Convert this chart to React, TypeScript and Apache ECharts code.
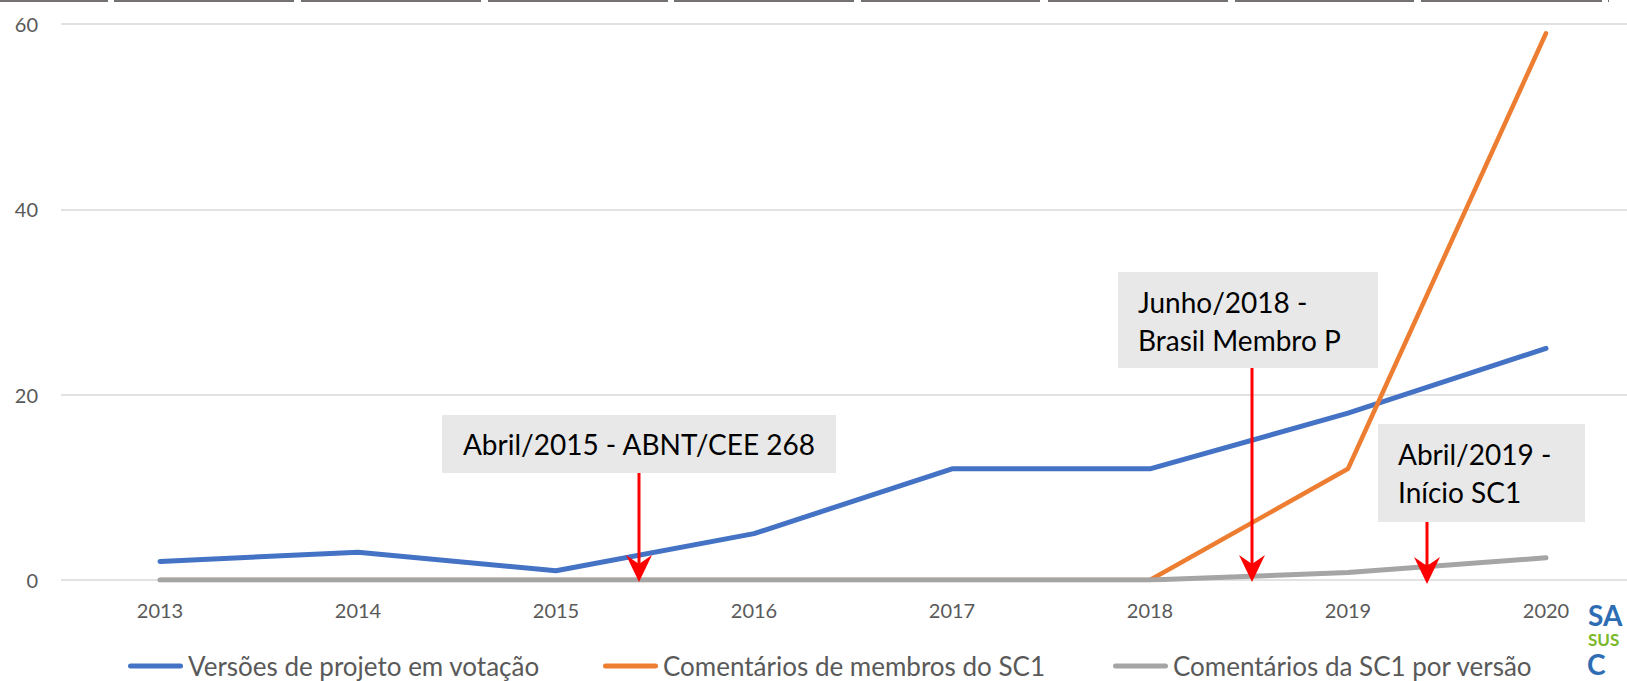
import React, { useEffect, useRef } from 'react';
import * as echarts from 'echarts';

// ---- data ----
const years = ['2013', '2014', '2015', '2016', '2017', '2018', '2019', '2020'];
const versoesProjeto = [2, 3, 1, 5, 12, 12, 18, 25];
const comentariosMembros = [0, 0, 0, 0, 0, 0, 12, 59];
const comentariosSC1 = [0, 0, 0, 0, 0, 0, 0.8, 2.4];
const seriesNames = [
  'Versões de projeto em votação',
  'Comentários de membros do SC1',
  'Comentários da SC1 por versão',
];
const seriesColors = ['#4472C4', '#ED7D31', '#A5A5A5'];
const yMin = 0;
const yMax = 60;
const yInterval = 20;

// ---- annotations (layout) ----
const annotations = [
  { lines: ['Abril/2015 - ABNT/CEE 268'], box: [442, 415, 394, 58], center: true, textX: 639, textY: [444], arrowX: 639, arrowTop: 473, tipY: 582 },
  { lines: ['Junho/2018 -', 'Brasil Membro P'], box: [1118, 272, 260, 96], center: false, textX: 1138, textY: [302, 340], arrowX: 1252, arrowTop: 368, tipY: 582 },
  { lines: ['Abril/2019 -', 'Início SC1'], box: [1378, 424, 207, 98], center: false, textX: 1398, textY: [454, 492], arrowX: 1427, arrowTop: 522, tipY: 584 },
];
const topBars = [
  [0, 108], [114, 294], [301, 481], [488, 668], [674, 854], [861, 1040],
  [1048, 1228], [1235, 1414], [1421, 1602], [1608, 1609],
];
const legendLefts = [128, 603, 1113];

const FONT = 'Lato, "Open Sans", sans-serif';
const lineIcon = 'path://M2.5,0 H52.5 A2.5,2.5 0 0 1 52.5,5 H2.5 A2.5,2.5 0 0 1 2.5,0 Z';

export default function App() {
  const ref = useRef<HTMLDivElement>(null);
  useEffect(() => {
    const chart = echarts.init(ref.current!, null, { renderer: 'svg' });
    const graphic: any[] = [];
    topBars.forEach(([a, b]) => {
      graphic.push({ type: 'rect', shape: { x: a, y: 0, width: b - a, height: 2 }, style: { fill: '#767171' }, z: 100 });
    });
    annotations.forEach((an) => {
      const [bx, by, bw, bh] = an.box;
      graphic.push({ type: 'rect', shape: { x: bx, y: by, width: bw, height: bh }, style: { fill: '#E8E8E8' }, z: 100 });
      an.lines.forEach((t, i) => {
        graphic.push({
          type: 'text', x: an.textX, y: an.textY[i], z: 101,
          style: { text: t, font: `28px ${FONT}`, fill: '#000000', textAlign: an.center ? 'center' : 'left', textVerticalAlign: 'middle' },
        });
      });
      graphic.push({
        type: 'line', z: 102,
        shape: { x1: an.arrowX, y1: an.arrowTop, x2: an.arrowX, y2: an.tipY - 10 },
        style: { stroke: '#FF0000', lineWidth: 3 },
      });
      graphic.push({
        type: 'polygon', z: 102,
        shape: { points: [[an.arrowX, an.tipY], [an.arrowX - 13, an.tipY - 27], [an.arrowX, an.tipY - 18], [an.arrowX + 13, an.tipY - 27]] },
        style: { fill: '#FF0000' },
      });
    });
    // logo fragment bottom-right
    graphic.push({ type: 'text', x: 1588, y: 601, z: 100, style: { text: 'SA', font: `bold 28px ${FONT}`, fill: '#2E6DB4', textVerticalAlign: 'top' } });
    graphic.push({ type: 'text', x: 1588, y: 631, z: 100, style: { text: 'SUS', font: `bold 17px ${FONT}`, fill: '#7AB829', textVerticalAlign: 'top' } });
    graphic.push({ type: 'text', x: 1587, y: 650, z: 100, style: { text: 'C', font: `bold 28px ${FONT}`, fill: '#2E6DB4', textVerticalAlign: 'top' } });

    chart.setOption({
      animation: false,
      backgroundColor: '#ffffff',
      grid: { left: 61, right: -18, top: 24, bottom: 101, containLabel: false, outerBoundsMode: 'none' },
      xAxis: {
        type: 'category',
        data: years,
        boundaryGap: true,
        axisLine: { show: false },
        axisTick: { show: false },
        splitLine: { show: false },
        axisLabel: { fontFamily: FONT, fontSize: 20, color: '#595959', margin: 20 },
      },
      yAxis: {
        type: 'value',
        min: yMin,
        max: yMax,
        interval: yInterval,
        axisLine: { show: false },
        axisTick: { show: false },
        axisLabel: { fontFamily: FONT, fontSize: 20, color: '#595959', margin: 23 },
        splitLine: { lineStyle: { color: '#D9D9D9', width: 1.5 } },
      },
      legend: seriesNames.map((n, i) => ({
        data: [n],
        left: legendLefts[i],
        top: 653,
        padding: 0,
        itemWidth: 55,
        itemHeight: 5,
        icon: lineIcon,
        textStyle: { fontFamily: FONT, fontSize: 26, color: '#595959' },
      })),
      series: [
        { name: seriesNames[0], data: versoesProjeto },
        { name: seriesNames[1], data: comentariosMembros },
        { name: seriesNames[2], data: comentariosSC1 },
      ].map((s, i) => ({
        ...s,
        type: 'line',
        symbol: 'none',
        color: seriesColors[i],
        itemStyle: { color: seriesColors[i] },
        lineStyle: { color: seriesColors[i], width: i === 1 ? 4.5 : 5, cap: 'round', join: 'round' },
      })),
      graphic,
    });
    return () => chart.dispose();
  }, []);
  return (
    <div
      ref={ref}
      style={{ position: 'fixed', left: 0, top: 0, width: 1627, height: 681, background: '#fff' }}
    />
  );
}
